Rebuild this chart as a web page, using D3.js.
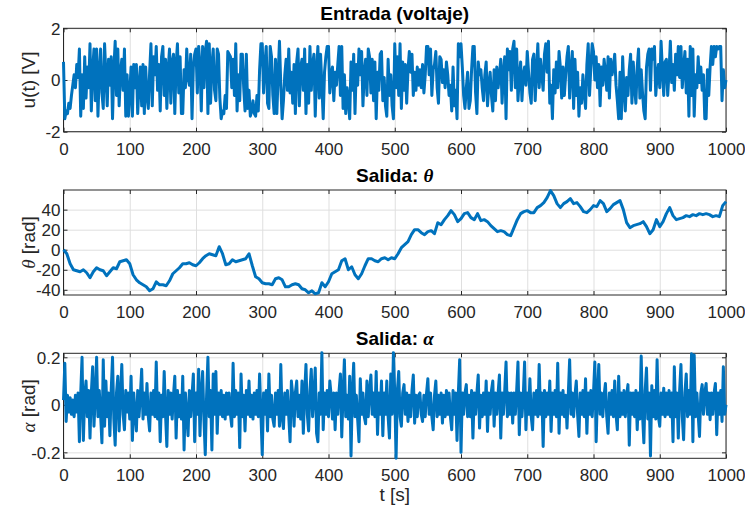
<!DOCTYPE html>
<html>
<head>
<meta charset="utf-8">
<script src="https://cdn.jsdelivr.net/npm/d3@7"></script>
<style>
  html, body { margin: 0; padding: 0; background: #ffffff; }
  svg { display: block; font-family: "Liberation Sans", Arial, Helvetica, sans-serif; }
</style>
</head>
<body>
<svg id="fig" width="745" height="510"></svg>
<script>
// ---- data -------------------------------------------------------------
// sample spacing (seconds) of each recorded signal
const uStep = 2;
const thetaStep = 5;
const alphaStep = 2;

// input voltage u(t)
const uValues = [
  0.7, -1.5, -1.2, -1.3, -0.9, -1.1, -0.6, -0.2, 0.2, -0.3,
  0.6, 0.1, 1.2, -1.4, 0.2, -1.1, 0.9, -0.7, 0.5, -0.3,
  1.4, -1.2, 0.4, 1.2, -0.8, 1.2, -1.4, 0.3, 1.2, -0.5,
  -1.1, 1.4, 0.2, -1.0, 0.8, -0.2, 0.9, -1.5, 0.4, 1.5,
  -0.6, 1.2, -1.0, 0.3, 0.8, -0.4, 1.2, -1.4, 0.2, -1.4,
  -0.5, 0.5, -1.4, 0.6, -0.3, 0.6, -1.3, -0.2, 0.5, -1.0,
  0.6, -1.3, 0.5, -0.6, -1.1, 0.3, 1.4, -1.0, 0.9, 0.2,
  1.3, -0.4, 0.6, -1.2, 0.9, 1.3, -0.6, 0.8, -1.1, 0.4,
  1.2, -0.9, 0.7, 1.0, -1.3, 0.6, 1.4, -0.5, 0.9, -1.3,
  -1.3, 0.4, -0.3, 1.2, 0.1, -0.2, 1.0, -1.5, 0.5, 1.0,
  1.2, -0.5, 1.3, 0.6, -1.2, 1.3, -0.3, 1.1, 1.5, -1.3,
  1.4, -0.9, 0.6, 1.2, -0.4, -0.8, 1.2, 1.0, -0.7, -1.5,
  -1.2, -1.3, -0.6, -1.1, 1.1, 1.0, 0.9, -0.3, 0.8, -0.6,
  1.4, -1.2, 0.2, -0.8, 1.0, 1.0, -0.3, -1.2, 1.0, -1.1,
  -0.4, -1.4, -1.2, -0.8, -1.3, -1.4, -0.6, -1.2, 0.4, 1.4,
  1.4, -0.5, 0.6, 1.3, -0.9, -1.1, 1.3, 0.9, -0.6, -1.3,
  0.8, -1.3, 0.2, 1.5, -0.2, -1.5, -0.8, 0.2, 0.8, -0.4,
  1.2, -0.5, 0.3, -0.9, 0.6, -1.3, 0.7, 1.2, -1.0, 0.5,
  0.8, -0.4, 1.2, -1.3, 0.6, -0.9, 1.3, -0.4, 0.6, 1.0,
  -1.4, 0.4, 1.3, -0.7, 1.0, -0.2, -1.5, 0.3, 0.9, 1.3,
  1.3, -0.5, 0.2, 0.5, -0.8, 0.3, -0.2, 0.6, 1.3, -0.6,
  1.3, -1.1, 0.2, -1.3, -0.3, -0.8, -1.5, 0.7, -0.4, 1.0,
  -1.3, 0.6, -0.2, 1.2, 0.2, 1.1, -1.0, 0.3, 0.8, -0.6,
  1.2, 0.9, -0.5, 0.8, -0.8, 0.7, -1.5, 0.3, -0.4, 1.0,
  1.1, -0.8, 0.1, -1.0, -1.4, 0.8, -0.6, 0.2, -1.0, -1.5,
  1.4, -0.3, 0.9, -0.6, 1.4, -1.1, 0.7, -0.4, 0.6, -0.9,
  0.4, 1.1, 0.3, 1.0, -0.6, 0.3, -0.4, 0.5, -0.2, 0.4,
  -0.3, 0.6, -0.5, 0.2, 1.3, 1.3, 0.2, 1.2, -0.6, 0.4,
  0.6, 1.1, -0.3, -0.9, 0.9, 0.8, -0.1, 0.4, -0.3, 0.7,
  0.2, -0.6, -0.2, -1.2, 0.5, -1.0, -0.4, -1.5, 1.4, 0.9,
  1.4, 0.5, -0.6, -1.1, -0.3, 0.3, -1.1, -0.8, 0.4, 1.3,
  1.3, -0.5, -1.3, 0.7, 0.2, 0.4, -0.3, -0.8, 0.2, 0.7,
  -1.0, -0.2, 0.3, -0.6, -1.2, 0.4, -0.8, 0.5, -0.3, 0.2,
  0.8, -0.9, 0.3, 0.9, -1.5, 1.2, 0.4, 1.1, -0.4, 1.2,
  1.5, -0.3, 1.2, -0.8, 0.1, 0.7, -0.8, 0.2, 0.5, -0.2,
  1.1, 0.3, -0.5, -0.9, 0.8, 1.0, -0.8, 0.4, 1.4, -0.3,
  0.8, 0.2, -0.4, 1.0, 1.4, 0.3, 1.5, -0.9, -0.2, -1.5,
  0.4, -0.5, 0.7, -0.3, 1.1, 0.5, -0.7, 0.5, -0.6, 0.2,
  0.9, 1.3, -0.7, 0.4, 1.1, -1.1, 0.8, -0.6, 0.3, -1.4,
  -0.3, -0.9, 0.2, -0.5, -1.1, 0.6, 1.4, -0.6, 0.5, 1.4,
  1.1, 0.0, 0.9, -0.3, 0.6, -1.0, 0.5, -0.2, 0.8, 0.3,
  -0.4, 0.9, -0.7, 0.8, 0.2, 0.5, 1.0, -0.2, -0.8, -1.5,
  0.3, -1.5, 0.9, -0.4, -1.2, 0.1, -0.6, 0.4, 1.0, -0.9,
  0.7, -0.3, -0.9, 0.5, 1.2, -0.7, 0.4, -0.5, -1.2, -1.5,
  0.5, 1.0, 1.2, -0.4, 1.2, 0.8, 1.3, -0.6, 0.2, 0.6,
  -0.3, 1.5, 0.4, -0.6, 0.7, 0.8, -0.6, 0.3, 1.5, -0.1,
  0.6, -0.4, 1.0, 0.2, 1.3, 0.1, 1.3, -0.3, 0.5, 1.1,
  -0.5, 0.8, -1.4, 1.3, -0.6, 1.2, -1.4, 0.2, -0.3, 0.9,
  -0.1, 0.5, -0.4, 0.2, -1.5, -1.5, 0.4, -0.6, 0.5, 1.3,
  0.6, 1.3, 0.9, 1.3, 1.2, 1.3, 1.3, -0.8, 0.4, -0.3,
  0.0
];

// output angle theta
const thetaValues = [
  0, -4, -14, -20, -21, -22, -20, -23, -28, -22,
  -18, -20, -21, -26, -22, -18, -19, -12, -11, -10,
  -14, -25, -30, -33, -35, -37, -41, -39, -32, -35,
  -35, -36, -31, -24, -21, -18, -14, -14, -13, -15,
  -16, -13, -9, -6, -4, -5, -6, 3, -4, -15,
  -14, -10, -12, -11, -10, -9, -4, -16, -27, -29,
  -33, -34, -34, -35, -29, -28, -30, -37, -37, -35,
  -34, -35, -39, -40, -43, -41, -44, -43, -33, -37,
  -32, -24, -22, -20, -11, -9, -20, -17, -25, -29,
  -24, -16, -9, -9, -11, -12, -9, -8, -10, -8,
  -9, -4, 2, 5, 8, 15, 20, 20, 17, 15,
  18, 19, 16, 27, 25, 30, 34, 39, 35, 28,
  31, 36, 37, 32, 30, 36, 29, 30, 28, 24,
  21, 18, 19, 18, 15, 14, 22, 30, 36, 38,
  39, 37, 37, 42, 44, 47, 52, 59, 54, 46,
  42, 46, 48, 51, 46, 47, 43, 38, 37, 40,
  44, 43, 49, 46, 38, 41, 45, 47, 49, 40,
  27, 22, 24, 25, 26, 28, 23, 16, 20, 30,
  23, 28, 36, 42, 34, 30, 31, 32, 34, 33,
  35, 34, 36, 35, 36, 35, 33, 34, 33, 44,
  48
];

// output angle alpha
const alphaValues = [
  0.02, 0.175, -0.07, 0.04, -0.03, 0.03, -0.04, 0.02, -0.05, 0.04,
  -0.03, 0.05, -0.155, 0.05, 0.2, -0.15, 0.04, 0.1, -0.05, 0.06,
  -0.14, 0.05, 0.16, -0.09, 0.04, 0.2, -0.05, 0.06, -0.04, -0.16,
  0.19, -0.09, 0.1, -0.05, 0.05, -0.13, 0.06, 0.2, -0.06, -0.17,
  0.05, 0.12, -0.11, 0.04, 0.17, -0.04, -0.105, 0.06, -0.03, 0.05,
  -0.06, 0.12, -0.15, 0.05, -0.04, -0.11, 0.06, -0.05, 0.04, 0.15,
  -0.06, 0.05, -0.04, 0.09, -0.05, -0.11, 0.05, -0.04, 0.06, -0.05,
  0.18, -0.06, 0.05, -0.155, 0.04, -0.05, 0.14, -0.04, -0.175, 0.06,
  -0.04, 0.05, -0.06, 0.04, 0.12, -0.14, 0.06, -0.05, 0.04, -0.06,
  0.12, -0.19, 0.05, -0.04, -0.13, 0.06, -0.05, 0.04, 0.13, -0.155,
  0.05, -0.04, 0.15, -0.13, 0.05, 0.14, -0.06, -0.21, 0.04, 0.2,
  -0.05, 0.06, -0.19, 0.13, -0.04, 0.14, -0.12, 0.05, -0.04, 0.06,
  -0.05, 0.04, -0.06, 0.05, -0.04, 0.05, -0.04, -0.09, 0.175, -0.05,
  0.06, -0.04, 0.05, -0.18, 0.13, -0.05, 0.04, -0.11, 0.06, -0.04,
  0.1, -0.05, 0.04, -0.06, 0.05, -0.04, 0.06, -0.05, 0.13, -0.04,
  -0.21, 0.05, -0.04, 0.06, -0.11, 0.13, -0.05, 0.04, -0.06, -0.09,
  0.05, -0.04, 0.06, -0.09, 0.17, -0.05, -0.1, 0.05, -0.04, 0.06,
  -0.05, -0.155, 0.1, 0.04, -0.09, 0.05, 0.1, -0.05, 0.04, -0.06,
  0.1, -0.12, 0.05, 0.17, -0.04, -0.11, 0.06, 0.15, -0.05, 0.04,
  0.155, -0.12, -0.155, 0.05, -0.04, 0.22, -0.105, 0.05, -0.04, 0.06,
  -0.05, 0.1, 0.04, -0.06, 0.05, -0.105, 0.05, -0.04, 0.06, 0.13,
  -0.135, 0.05, 0.19, -0.05, 0.04, -0.06, 0.12, -0.215, 0.05, 0.175,
  -0.05, 0.04, -0.06, -0.155, 0.11, -0.04, 0.05, -0.05, -0.08, 0.1,
  -0.05, 0.06, 0.125, -0.04, 0.05, -0.05, 0.14, -0.125, 0.05, -0.04,
  0.1, -0.13, 0.05, -0.04, 0.1, -0.05, -0.14, 0.13, -0.04, 0.22,
  0.05, -0.225, 0.06, 0.14, -0.05, -0.09, 0.05, 0.085, -0.04, 0.05,
  -0.07, 0.04, -0.05, 0.06, 0.125, -0.077, 0.04, -0.05, 0.04, 0.05,
  -0.04, -0.07, 0.04, -0.05, 0.05, 0.11, -0.04, 0.05, -0.05, -0.105,
  0.04, 0.1, -0.05, 0.04, -0.04, 0.05, -0.077, 0.04, -0.05, 0.06,
  -0.04, 0.05, -0.05, -0.105, 0.06, -0.04, 0.05, -0.15, 0.05, 0.19,
  -0.2, 0.05, -0.04, 0.05, 0.085, -0.05, 0.04, -0.05, 0.06, -0.14,
  0.05, -0.04, 0.05, 0.125, -0.098, 0.04, -0.05, 0.05, -0.04, 0.1,
  -0.112, 0.05, -0.04, 0.06, 0.1, -0.09, 0.05, -0.04, 0.05, 0.125,
  -0.14, 0.05, -0.04, 0.06, 0.18, -0.05, 0.05, -0.04, 0.05, -0.077,
  0.05, -0.04, 0.06, 0.18, -0.126, 0.05, -0.05, 0.04, 0.18, -0.105,
  0.05, -0.04, 0.11, -0.05, -0.105, 0.05, -0.04, 0.06, -0.05, 0.17,
  -0.04, 0.05, -0.175, 0.06, -0.05, 0.05, -0.04, 0.1, -0.112, 0.05,
  -0.04, 0.06, -0.05, 0.175, -0.12, 0.05, -0.04, 0.06, -0.05, 0.04,
  -0.098, 0.05, 0.19, -0.04, 0.05, -0.05, 0.04, 0.1, -0.04, -0.133,
  0.05, -0.04, 0.06, -0.05, 0.11, -0.12, 0.05, -0.04, 0.06, -0.05,
  0.05, 0.18, -0.155, 0.05, 0.17, -0.04, 0.05, -0.05, 0.04, 0.09,
  -0.05, -0.12, 0.05, -0.04, 0.06, -0.05, 0.1, -0.04, -0.105, 0.12,
  -0.05, 0.05, -0.04, 0.06, -0.05, 0.04, 0.085, -0.17, 0.05, -0.04,
  0.05, -0.05, 0.06, -0.105, 0.05, -0.06, 0.205, -0.04, -0.16, 0.06,
  0.155, -0.06, 0.05, -0.215, 0.08, -0.05, 0.06, -0.06, 0.19, -0.05,
  -0.09, 0.05, -0.04, 0.07, -0.05, 0.05, -0.04, 0.06, -0.05, 0.05,
  -0.155, 0.16, -0.05, 0.05, -0.14, 0.06, 0.17, -0.05, -0.147, 0.05,
  0.13, -0.05, 0.06, -0.04, 0.215, -0.155, 0.21, -0.05, 0.05, -0.04,
  -0.133, 0.05, 0.085, -0.04, 0.05, 0.09, -0.04, 0.05, -0.063, 0.05,
  -0.04, 0.05, 0.09, -0.126, 0.05, -0.04, 0.06, -0.07, 0.16, -0.04,
  0.0
];

// tick values
const timeTicks = [0, 100, 200, 300, 400, 500, 600, 700, 800, 900, 1000];
const uTicks = [-2, 0, 2];
const thetaTicks = [-40, -20, 0, 20, 40];
const alphaTicks = [-0.2, 0, 0.2];

// ---- drawing -------------------------------------------------------------
const svg = d3.select("#fig");
const axisColor = "#262626";
const gridColor = "#dfdfdf";
const lineColor = "#0072BD";
const tickFont = 17;
const labelFont = 19;
const plotLeft = 63.5, plotRight = 726;

// plain hyphen for negative tick labels
const plainNumber = d => String(d);

const x = d3.scaleLinear().domain([0, 1000]).range([plotLeft, plotRight]);

function drawPanel(cfg) {
  const y = d3.scaleLinear().domain(cfg.yDomain).range([cfg.bottom, cfg.top]);
  const h = cfg.bottom - cfg.top;
  const g = svg.append("g");

  // grid
  g.append("g")
    .attr("transform", `translate(0,${cfg.bottom})`)
    .call(d3.axisBottom(x).tickValues(timeTicks).tickSize(-h).tickFormat(""))
    .call(s => s.select(".domain").remove())
    .call(s => s.selectAll("line").attr("stroke", gridColor).attr("stroke-width", 1));
  g.append("g")
    .attr("transform", `translate(${plotLeft},0)`)
    .call(d3.axisLeft(y).tickValues(cfg.yTicks).tickSize(-(plotRight - plotLeft)).tickFormat(""))
    .call(s => s.select(".domain").remove())
    .call(s => s.selectAll("line").attr("stroke", gridColor).attr("stroke-width", 1));

  // box
  g.append("rect")
    .attr("x", plotLeft).attr("y", cfg.top)
    .attr("width", plotRight - plotLeft).attr("height", h)
    .attr("fill", "none").attr("stroke", axisColor).attr("stroke-width", 1);

  // axes with inward ticks on all four sides
  const styleAxis = s => {
    s.select(".domain").remove();
    s.selectAll(".tick line").attr("stroke", axisColor).attr("stroke-width", 1);
    s.selectAll(".tick text")
      .attr("fill", axisColor)
      .attr("font-size", tickFont)
      .attr("font-family", '"Liberation Sans", Arial, Helvetica, sans-serif');
  };

  g.append("g")
    .attr("transform", `translate(0,${cfg.bottom})`)
    .call(d3.axisBottom(x).tickValues(timeTicks).tickSize(-4).tickFormat(plainNumber))
    .call(styleAxis)
    .call(s => s.selectAll(".tick text").attr("dy", null).attr("y", 23));
  g.append("g")
    .attr("transform", `translate(0,${cfg.top})`)
    .call(d3.axisTop(x).tickValues(timeTicks).tickSize(-4).tickFormat(""))
    .call(styleAxis);
  g.append("g")
    .attr("transform", `translate(${plotLeft},0)`)
    .call(d3.axisLeft(y).tickValues(cfg.yTicks).tickSize(-4).tickFormat(plainNumber))
    .call(styleAxis)
    .call(s => s.selectAll(".tick text").attr("x", -3).attr("dy", "0.35em"));
  g.append("g")
    .attr("transform", `translate(${plotRight},0)`)
    .call(d3.axisRight(y).tickValues(cfg.yTicks).tickSize(-4).tickFormat(""))
    .call(styleAxis);

  // signal
  const clipId = "clip" + cfg.id;
  svg.append("clipPath").attr("id", clipId)
    .append("rect")
    .attr("x", plotLeft - 2).attr("y", cfg.top - 2)
    .attr("width", plotRight - plotLeft + 4).attr("height", h + 4);
  const line = d3.line()
    .x((d, i) => x(i * cfg.step))
    .y(d => y(d));
  g.append("path")
    .datum(cfg.values)
    .attr("clip-path", `url(#${clipId})`)
    .attr("fill", "none")
    .attr("stroke", lineColor)
    .attr("stroke-width", 3)
    .attr("stroke-linejoin", "round")
    .attr("d", line);

  // title
  const title = g.append("text")
    .attr("x", (plotLeft + plotRight) / 2)
    .attr("y", cfg.top - 8)
    .attr("text-anchor", "middle")
    .attr("font-size", labelFont)
    .attr("font-weight", "bold")
    .attr("fill", "#000");
  cfg.title.forEach(part => {
    const t = title.append("tspan").text(part.text);
    if (part.greek) t.attr("font-family", '"Liberation Serif", "DejaVu Serif", serif').attr("font-style", "italic");
  });

  // y label
  const yl = g.append("text")
    .attr("transform", `translate(35,${(cfg.top + cfg.bottom) / 2}) rotate(-90)`)
    .attr("text-anchor", "middle")
    .attr("font-size", labelFont)
    .attr("fill", axisColor);
  cfg.ylabel.forEach(part => {
    const t = yl.append("tspan").text(part.text);
    if (part.greek) t.attr("font-family", '"Liberation Serif", "DejaVu Serif", serif').attr("font-style", "italic");
  });
}

drawPanel({
  id: "u", top: 28.3, bottom: 131.7, yDomain: [-2, 2], yTicks: uTicks,
  values: uValues, step: uStep,
  title: [{ text: "Entrada (voltaje)" }],
  ylabel: [{ text: "u(t) [V]" }]
});

drawPanel({
  id: "theta", top: 190, bottom: 295, yDomain: [-45.2, 59.6], yTicks: thetaTicks,
  values: thetaValues, step: thetaStep,
  title: [{ text: "Salida: " }, { text: "θ", greek: true }],
  ylabel: [{ text: "θ", greek: true }, { text: " [rad]" }]
});

drawPanel({
  id: "alpha", top: 353.3, bottom: 458.3, yDomain: [-0.225, 0.2168], yTicks: alphaTicks,
  values: alphaValues, step: alphaStep,
  title: [{ text: "Salida: " }, { text: "α", greek: true }],
  ylabel: [{ text: "α", greek: true }, { text: " [rad]" }]
});

// shared time label
svg.append("text")
  .attr("x", (plotLeft + plotRight) / 2)
  .attr("y", 501)
  .attr("text-anchor", "middle")
  .attr("font-size", labelFont)
  .attr("fill", axisColor)
  .text("t [s]");
</script>
</body>
</html>
